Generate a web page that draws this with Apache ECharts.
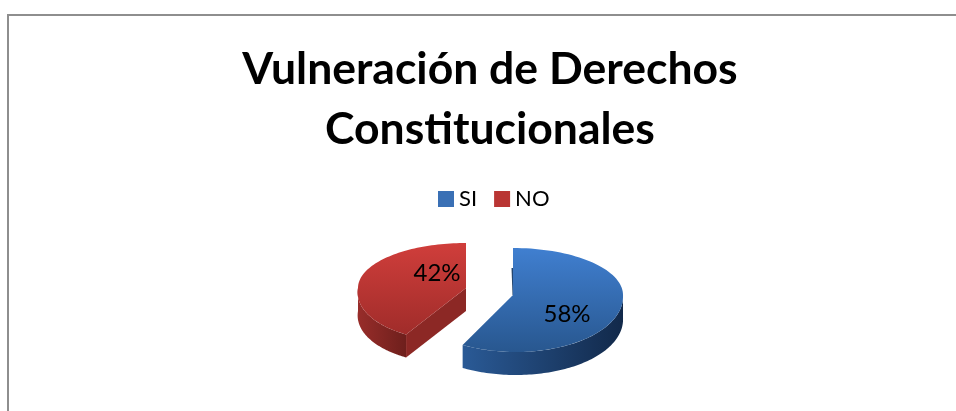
<!DOCTYPE html>
<html><head><meta charset="utf-8">
<style>html,body{margin:0;padding:0;background:#fff}#c{width:956px;height:411px}</style>
<script src="https://cdn.jsdelivr.net/npm/echarts@6/dist/echarts.min.js"></script>
</head><body><div id="c"></div>
<script>
const titleText = 'Vulneración de Derechos\nConstitucionales';
const categories = ['SI', 'NO'];
const values = [58, 42];
const total = values.reduce((a, b) => a + b, 0);

const FONT = 'Lato';
const geo = [
  {cx: 513, cy: 295, rx: 110, ryT: 47, ryB: 57, depth: 23, shear: -3,
   top: ['#407fd0', '#28578f'], wall: ['#2a5a96', '#12294a'], side: '#24466f', labelAt: [567, 314]},
  {cx: 466, cy: 288, rx: 108, ryT: 45, ryB: 53, depth: 23, shear: 9,
   top: ['#d03e3b', '#a02c2a'], wall: ['#982d2a', '#6e1f1c'], side: '#8c2825', labelAt: [437, 273]}
];
const grad = (c, horizontal) => new echarts.graphic.LinearGradient(0, 0, horizontal ? 1 : 0, horizontal ? 0 : 1, [
  {offset: 0, color: c[0]}, {offset: 1, color: c[1]}]);

function pt(g, a, dz) {
  const c = Math.cos(a), s = Math.sin(a);
  return [g.cx + g.rx * s - g.shear * Math.max(0, -c), g.cy - (c > 0 ? g.ryT : g.ryB) * c + (dz || 0)];
}
function arc(g, a0, a1, dz) {
  const out = [], n = 90;
  for (let i = 0; i <= n; i++) out.push(pt(g, a0 + (a1 - a0) * i / n, dz));
  return out;
}
function renderSlice(idx) {
  return function (params, api) {
    const g = geo[idx];
    const startV = values.slice(0, idx).reduce((a, b) => a + b, 0);
    const a0 = startV / total * 2 * Math.PI;
    const a1 = (startV + api.value(0)) / total * 2 * Math.PI;
    const children = [];
    const w0 = Math.max(a0, Math.PI / 2), w1 = Math.min(a1, Math.PI * 1.5);
    if (w1 > w0) {
      children.push({type: 'polygon', shape: {points: arc(g, w0, w1, 0).concat(arc(g, w1, w0, g.depth))},
        style: {fill: grad(g.wall, true)}});
    }
    const apex = [g.cx, g.cy];
    const e = pt(g, a0);
    if (idx === 1) {
      children.push({type: 'polygon', shape: {points: [apex, e, [e[0], e[1] + g.depth], [apex[0], apex[1] + g.depth]]},
        style: {fill: g.side}});
    } else {
      children.push({type: 'polygon', shape: {points: [apex, [e[0], e[1] + 20], [e[0] - 1.5, e[1] + 20], [apex[0] - 0.5, apex[1]]]},
        style: {fill: g.side}});
    }
    children.push({type: 'polygon', shape: {points: [apex].concat(arc(g, a0, a1, 0))},
      style: {fill: grad(g.top, false)}});
    children.push({type: 'text', x: g.labelAt[0], y: g.labelAt[1],
      style: {text: Math.round(api.value(0) / total * 100) + '%', fill: '#000', font: '24px ' + FONT,
        align: 'center', verticalAlign: 'middle'}});
    return {type: 'group', children};
  };
}
const chart = echarts.init(document.getElementById('c'), null, {renderer: 'canvas'});
chart.setOption({
  animation: false,
  backgroundColor: '#fff',
  title: {text: titleText, left: 485, top: 35, textAlign: 'center',
    textStyle: {fontFamily: FONT, fontWeight: 'bold', fontSize: 44.5, lineHeight: 60, color: '#000'}},
  legend: {data: categories, top: 183, left: 433, itemWidth: 16, itemHeight: 16, itemGap: 17,
    icon: 'rect', textStyle: {fontFamily: FONT, fontSize: 22, color: '#000'}},
  graphic: [{type: 'polyline', silent: true, shape: {points: [[8, 411], [8, 15], [956, 15]]},
    style: {stroke: '#8e8e8e', lineWidth: 2, fill: null}}],
  series: categories.map((name, i) => ({
    type: 'custom', name, coordinateSystem: 'none',
    data: [[values[i]]],
    encode: {value: 0},
    itemStyle: {color: i === 0 ? '#3a70b5' : '#b93533'},
    renderItem: renderSlice(i)
  }))
});
</script></body></html>
